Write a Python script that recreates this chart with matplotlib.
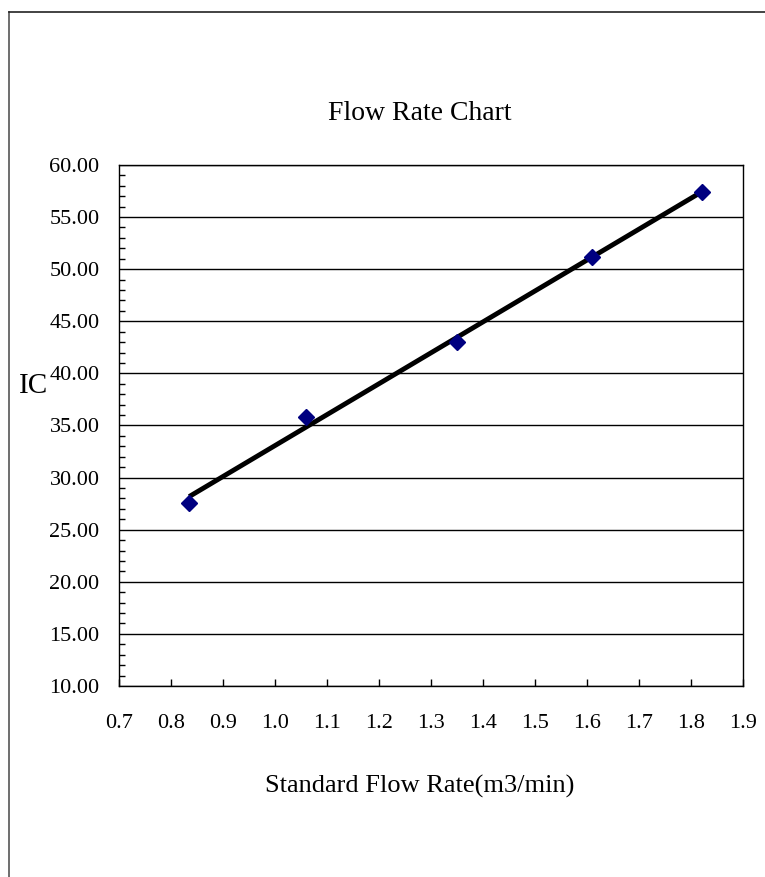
import numpy as np
import matplotlib.pyplot as plt
from matplotlib.lines import Line2D
from matplotlib.ticker import MultipleLocator, FormatStrFormatter

plt.rcParams['font.family'] = ['Liberation Serif', 'DejaVu Serif']

# data
flow = [0.835, 1.06, 1.35, 1.61, 1.821]
ic = [27.6, 35.85, 43.05, 51.2, 57.4]

fig = plt.figure(figsize=(7.65, 8.77), dpi=100)
ax = fig.add_axes([0.1556, 0.2178, 0.8157, 0.5941])

# linear trend line, like Excel's
k, b = np.polyfit(flow, ic, 1)
xs = np.array([min(flow), max(flow)])
ax.plot(xs, k * xs + b, color='black', linewidth=3.5, solid_capstyle='butt', zorder=3)
ax.plot(flow, ic, linestyle='none', marker='D', markersize=8,
        color='#000080', zorder=4)

ax.set_xlim(0.7, 1.9)
ax.set_ylim(10, 60)
ax.xaxis.set_major_locator(MultipleLocator(0.1))
ax.xaxis.set_major_formatter(FormatStrFormatter('%.1f'))
ax.yaxis.set_major_locator(MultipleLocator(5))
ax.yaxis.set_minor_locator(MultipleLocator(1))
ax.yaxis.set_major_formatter(FormatStrFormatter('%.2f'))
ax.grid(axis='y', which='major', color='black', linewidth=1)
ax.set_axisbelow(True)

ax.tick_params(axis='x', direction='in', length=5, width=1, pad=20, labelsize=16)
ax.tick_params(axis='y', which='major', direction='in', length=0, pad=14, labelsize=16)
ax.tick_params(axis='y', which='minor', direction='in', length=4, width=1)
for s in ax.spines.values():
    s.set_linewidth(1)
    s.set_color('black')

fig.text(0.549, 0.871, 'Flow Rate Chart', ha='center', va='center', fontsize=20)
fig.text(0.548, 0.103, 'Standard Flow Rate(m3/min)', ha='center', va='center', fontsize=19)
fig.text(0.044, 0.560, 'IC', ha='center', va='center', fontsize=21)

# outer chart border (only left and top edges visible)
fig.add_artist(Line2D([0.012, 0.012], [0.0, 0.986], transform=fig.transFigure,
                      color='#555555', linewidth=1.2))
fig.add_artist(Line2D([0.012, 1.0], [0.986, 0.986], transform=fig.transFigure,
                      color='#222222', linewidth=1.2))

fig.savefig('out.png', dpi=100)
